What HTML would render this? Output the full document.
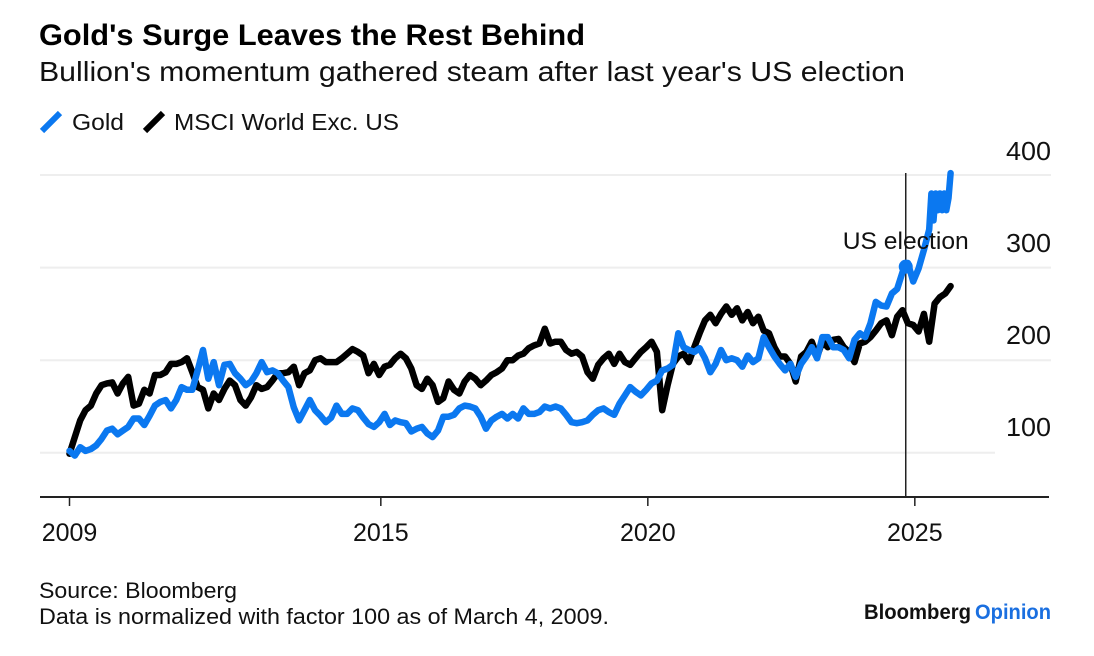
<!DOCTYPE html>
<html>
<head>
<meta charset="utf-8">
<title>Gold's Surge Leaves the Rest Behind</title>
<style>
html,body{margin:0;padding:0;background:#fff;}
svg{display:block;font-family:"Liberation Sans",sans-serif;}
</style>
</head>
<body>
<svg id="chart" width="1094" height="656" viewBox="0 0 1094 656" xmlns="http://www.w3.org/2000/svg">
<rect x="0" y="0" width="1094" height="656" fill="#fff"/>
<text x="39" y="45" font-size="30" font-weight="bold" fill="#000" textLength="546" lengthAdjust="spacingAndGlyphs">Gold's Surge Leaves the Rest Behind</text>
<text x="39" y="81" font-size="28" fill="#111" textLength="866" lengthAdjust="spacingAndGlyphs">Bullion's momentum gathered steam after last year's US election</text>
<g>
<line x1="42" y1="131" x2="60" y2="113" stroke="#0b78f0" stroke-width="6"/>
<text x="72" y="130" font-size="23" fill="#111" textLength="52" lengthAdjust="spacingAndGlyphs">Gold</text>
<line x1="145" y1="131" x2="163" y2="113" stroke="#000" stroke-width="6"/>
<text x="174" y="130" font-size="23" fill="#111" textLength="225" lengthAdjust="spacingAndGlyphs">MSCI World Exc. US</text>
</g>
<g id="grid"></g>
<g id="ylabels"></g>
<line id="electionLine" stroke="#222" stroke-width="1.5"/>
<g id="series"></g>
<line x1="40" y1="497" x2="1049" y2="497" stroke="#222" stroke-width="2"/>
<g id="xaxis"></g>
<text id="electionLabel" text-anchor="middle" font-size="24" fill="#111" textLength="126" lengthAdjust="spacingAndGlyphs">US election</text>
<text x="39" y="598" font-size="22" fill="#111" textLength="198" lengthAdjust="spacingAndGlyphs">Source: Bloomberg</text>
<text x="39" y="624" font-size="22" fill="#111" textLength="570" lengthAdjust="spacingAndGlyphs">Data is normalized with factor 100 as of March 4, 2009.</text>
<text x="864" y="619" font-size="21" font-weight="bold" fill="#111" textLength="107" lengthAdjust="spacingAndGlyphs">Bloomberg</text>
<text x="975" y="619" font-size="21" font-weight="bold" fill="#1a6fe0" textLength="76" lengthAdjust="spacingAndGlyphs">Opinion</text>
</svg>
<script>
const startYear = 2009.17;
const yearStep = 0.1;
const tailYearStep = 0.04;
const xTickYears = [2009, 2015, 2020, 2025];
const yTickValues = [100, 200, 300, 400];
const electionYear = 2024.83;
const electionGold = 301;
const msciValues = [
99,117,135,146,151,164,173,175,176,164,
175,182,151,153,168,164,184,184,187,196,
196,198,202,187,171,168,148,164,157,169,
178,173,157,151,160,173,169,171,178,186,
186,187,193,173,186,189,200,202,198,198,
198,202,207,212,209,205,186,196,184,193,
195,202,207,202,191,173,169,180,173,155,
159,177,168,164,177,184,180,173,178,184,
187,191,200,200,205,207,213,216,218,234,
218,220,220,211,207,209,204,187,180,195,
202,207,196,207,198,195,202,209,214,220,
209,146,173,196,204,207,198,214,229,243,
249,240,250,258,249,256,243,252,240,247,
232,229,214,204,204,196,177,204,209,220,
204,220,214,222,223,214,209,198,218,220,
225,232,240,243,227,247,254,240,238,231,
250,220,261,268,272,280
];
const goldValues = [
102,97,106,102,104,108,115,124,126,120,
124,128,137,137,130,140,151,155,157,148,
157,171,168,168,189,211,180,198,173,195,
196,186,180,173,177,186,198,187,189,186,
178,171,149,135,146,157,146,140,133,138,
151,142,142,148,146,138,131,128,133,142,
130,135,133,132,123,126,128,121,117,124,
139,139,141,148,151,150,148,139,126,135,
139,142,137,142,137,148,142,142,144,150,
148,150,148,141,133,132,133,135,141,146,
148,144,141,153,162,171,166,162,168,175,
178,189,191,195,229,214,211,209,213,202,
187,196,211,200,202,200,193,205,198,202,
225,214,204,196,189,196,182,196,204,214,
202,225,225,214,214,211,202,222,229,225,
240,263,259,258,272,277,295,305,285,299,
319,341
];
const goldTailValues = [380,351,380,362,380,362,380,362,375,402];
const SVG_NS = 'http://www.w3.org/2000/svg';
function xScale(year) { return 69.5 + (year - startYear) * 53.4; }
function yScale(value) { return 452.8 - (value - 100) * 0.926; }
function yLabelBaseline(value) { return 160 + (400 - value) * 0.92; }
function make(tag, attrs, parent) {
  const el = document.createElementNS(SVG_NS, tag);
  for (const k in attrs) el.setAttribute(k, attrs[k]);
  parent.appendChild(el);
  return el;
}
const grid = document.getElementById('grid');
const ylabels = document.getElementById('ylabels');
yTickValues.forEach(function (v) {
  const line = make('line', { x1: 40, x2: v === 100 ? 995 : 1051, y1: yScale(v), y2: yScale(v), stroke: '#eeeeee', 'stroke-width': 2 }, grid);
  
  
  const label = make('text', { x: 1051, y: yLabelBaseline(v), 'text-anchor': 'end', 'font-size': 26, fill: '#111', textLength: 45, lengthAdjust: 'spacingAndGlyphs' }, ylabels);
  
  
  label.textContent = String(v);
});
const xaxis = document.getElementById('xaxis');
xTickYears.forEach(function (yr) {
  const px = Math.max(xScale(yr), xScale(startYear));
  const tick = make('line', { x1: px, x2: px, y1: 497, y2: 506, stroke: '#222', 'stroke-width': 1.5 }, xaxis);
  
  
  const label = make('text', { x: px, y: 541, 'text-anchor': 'middle', 'font-size': 25, fill: '#111' }, xaxis);
  
  
  label.textContent = String(yr);
});
const ex = xScale(electionYear);
const eLine = document.getElementById('electionLine');
eLine.setAttribute('x1', ex);
eLine.setAttribute('x2', ex);
eLine.setAttribute('y1', 173);
eLine.setAttribute('y2', 497);
const eLabel = document.getElementById('electionLabel');
eLabel.setAttribute('x', ex);
eLabel.setAttribute('y', 249);
function pathFor(values) {
  return values.map(function (v, i) {
    return (i ? 'L' : 'M') + xScale(startYear + i * yearStep).toFixed(1) + ' ' + yScale(v).toFixed(1);
  }).join('');
}
function tailFor(values, lastIndex) {
  const base = startYear + lastIndex * yearStep;
  return values.map(function (v, i) {
    return 'L' + xScale(base + (i + 1) * tailYearStep).toFixed(1) + ' ' + yScale(v).toFixed(1);
  }).join('');
}
const seriesGroup = document.getElementById('series');
const msciPath = make('path', { d: pathFor(msciValues), fill: 'none', stroke: '#000', 'stroke-width': 6.5, 'stroke-linejoin': 'round', 'stroke-linecap': 'round' }, seriesGroup);


const goldPath = make('path', { d: pathFor(goldValues) + tailFor(goldTailValues, goldValues.length - 1), fill: 'none', stroke: '#0b78f0', 'stroke-width': 6.5, 'stroke-linejoin': 'round', 'stroke-linecap': 'round' }, seriesGroup);


const dot = make('circle', { cx: ex, cy: yScale(electionGold), r: 7, fill: '#0b78f0' }, seriesGroup);


</script>
</body>
</html>
